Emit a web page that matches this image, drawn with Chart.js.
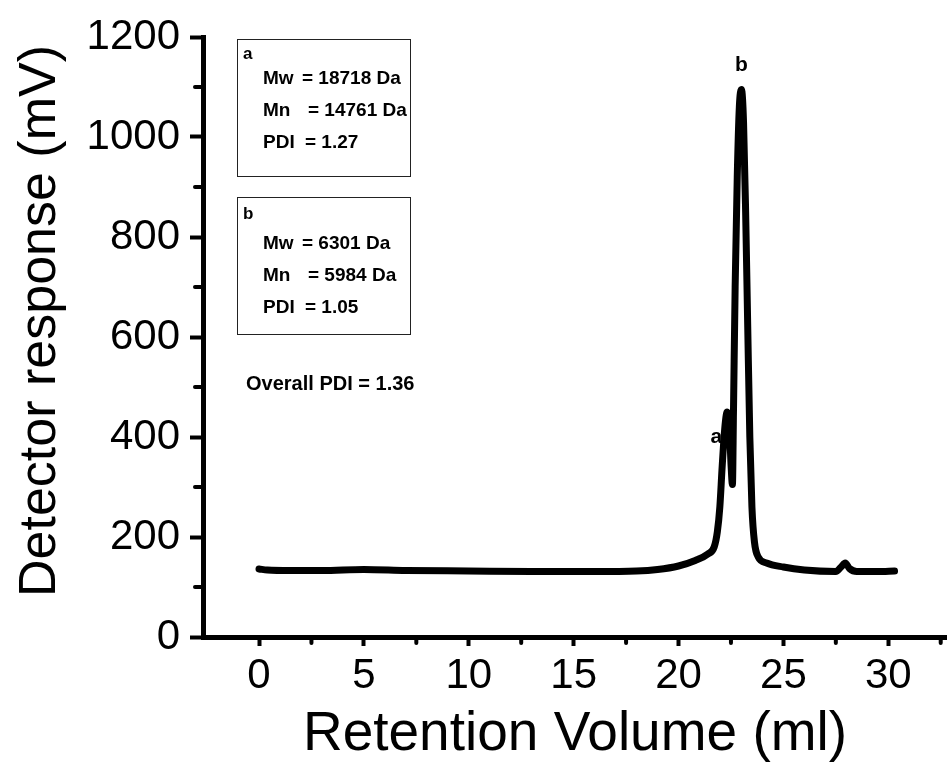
<!DOCTYPE html>
<html>
<head>
<meta charset="utf-8">
<script src="https://cdn.jsdelivr.net/npm/chart.js@4.4.0/dist/chart.umd.min.js"></script>
<style>
    body { margin: 0; background: #fff; }
    canvas { display: block; }
</style>
</head>
<body>
<canvas id="gpcChart" width="947" height="768"></canvas>
<script>
// GPC trace
const volume = [0, 0.4, 1.5, 3, 5, 7, 10, 13, 16, 18, 19, 20, 20.8, 21.4, 21.7, 21.85, 21.97, 22.08, 22.2, 22.32, 22.43, 22.51, 22.57, 22.62, 22.7, 22.8, 22.9, 23.0, 23.1, 23.2, 23.3, 23.4, 23.5, 23.62, 23.8, 24.2, 25.0, 26.0, 27.5, 27.75, 27.95, 28.15, 28.5, 29.5, 30.3];
const response = [136, 134, 133, 133, 135, 133, 132, 131, 131, 132, 135, 142, 153, 166, 180, 210, 260, 340, 415, 450, 415, 340, 305, 450, 700, 920, 1060, 1095, 1030, 850, 620, 400, 260, 190, 160, 148, 140, 134, 131, 140, 148, 137, 131, 131, 132];

const xTicks = [0, 5, 10, 15, 20, 25, 30];
const xMinor = [2.5, 7.5, 12.5, 17.5, 22.5, 27.5, 32.5];
const yTicks = [0, 200, 400, 600, 800, 1000, 1200];
const yMinor = [100, 300, 500, 700, 900, 1100];

const yTitle = 'Detector response (mV)';
const boxA = [['Mw', '= 18718 Da'], ['Mn', '= 14761 Da'], ['PDI', '= 1.27']];
const boxB = [['Mw', '= 6301 Da'], ['Mn', '= 5984 Da'], ['PDI', '= 1.05']];
const overallText = 'Overall PDI = 1.36';
const peakLabels = [{ text: 'a', x: 21.8, y: 400 }, { text: 'b', x: 23.0, y: 1144 }];

const FONT = '"Liberation Sans", Arial, sans-serif';

// extra drawing: minor ticks, y title, boxes and labels
const annotate = {
    id: 'annotate',
    afterDraw(chart) {
        const ctx = chart.ctx;
        const x = chart.scales.x;
        const y = chart.scales.y;
        ctx.save();

        // minor ticks
        ctx.strokeStyle = '#000';
        ctx.lineWidth = 4;
        ctx.lineCap = 'round';
        yMinor.forEach(v => {
            const py = y.getPixelForValue(v);
            ctx.beginPath();
            ctx.moveTo(x.left - 8, py);
            ctx.lineTo(x.left, py);
            ctx.stroke();
        });
        xMinor.forEach(v => {
            const px = x.getPixelForValue(v);
            ctx.beginPath();
            ctx.moveTo(px, y.bottom);
            ctx.lineTo(px, y.bottom + 6);
            ctx.stroke();
        });

        // y axis title, sits a little above the axis middle
        ctx.fillStyle = '#000';
        ctx.save();
        ctx.translate(41, 321);
        ctx.rotate(-Math.PI / 2);
        ctx.font = '52px ' + FONT;
        ctx.textAlign = 'center';
        ctx.textBaseline = 'middle';
        ctx.fillText(yTitle, 0, 0);
        ctx.restore();

        // info boxes
        ctx.lineWidth = 1;
        ctx.strokeStyle = '#222';
        ctx.strokeRect(237.5, 39.5, 173, 137);
        ctx.strokeRect(237.5, 197.5, 173, 137);

        ctx.textBaseline = 'middle';
        ctx.textAlign = 'left';
        ctx.font = 'bold 17px ' + FONT;
        ctx.fillText('a', 243, 54);
        ctx.fillText('b', 243, 214);

        ctx.font = 'bold 19px ' + FONT;
        const eqX = [302, 308, 305];
        const rowsA = [79, 111, 143];
        const rowsB = [244, 276, 308];
        boxA.forEach((r, i) => {
            ctx.fillText(r[0], 263, rowsA[i]);
            ctx.fillText(r[1], eqX[i], rowsA[i]);
        });
        boxB.forEach((r, i) => {
            ctx.fillText(r[0], 263, rowsB[i]);
            ctx.fillText(r[1], eqX[i], rowsB[i]);
        });

        ctx.font = 'bold 20px ' + FONT;
        ctx.fillText(overallText, 246, 384);

        // peak labels
        ctx.font = 'bold 21px ' + FONT;
        ctx.textAlign = 'center';
        peakLabels.forEach(p => {
            ctx.fillText(p.text, x.getPixelForValue(p.x), y.getPixelForValue(p.y));
        });

        ctx.restore();
    }
};

const ctx = document.getElementById('gpcChart').getContext('2d');
new Chart(ctx, {
    type: 'line',
    data: {
        datasets: [{
            data: volume.map((v, i) => ({ x: v, y: response[i] })),
            borderColor: '#000',
            borderWidth: 7,
            borderCapStyle: 'round',
            borderJoinStyle: 'round',
            cubicInterpolationMode: 'monotone',
            pointRadius: 0,
            fill: false
        }]
    },
    options: {
        responsive: false,
        animation: false,
        layout: { padding: { top: 37, right: 0, left: 0, bottom: 0 } },
        plugins: { legend: { display: false }, tooltip: { enabled: false } },
        scales: {
            x: {
                type: 'linear',
                min: -2.67,
                max: 32.8,
                afterBuildTicks: s => { s.ticks = xTicks.map(v => ({ value: v })); },
                afterFit: s => { s.height = 131; },
                grid: { drawOnChartArea: false, drawTicks: true, tickLength: 9, tickWidth: 4, tickColor: '#000' },
                border: { display: true, color: '#000', width: 5 },
                ticks: { color: '#000', padding: 5, maxRotation: 0, font: { family: FONT, size: 42 },
                         callback: v => String(v) },
                title: {
                    display: true,
                    text: 'Retention Volume (ml)',
                    color: '#000',
                    font: { family: FONT, size: 55 },
                    padding: { top: 0, bottom: 0 }
                }
            },
            y: {
                min: 0,
                max: 1200,
                afterBuildTicks: s => { s.ticks = yTicks.map(v => ({ value: v })); },
                afterFit: s => { s.width = 203; },
                grid: { drawOnChartArea: false, drawTicks: true, tickLength: 13, tickWidth: 4, tickColor: '#000' },
                border: { display: true, color: '#000', width: 5 },
                ticks: { color: '#000', padding: 10, font: { family: FONT, size: 42 },
                         callback: v => String(v) },
                title: { display: false }
            }
        }
    },
    plugins: [annotate]
});
</script>
</body>
</html>
